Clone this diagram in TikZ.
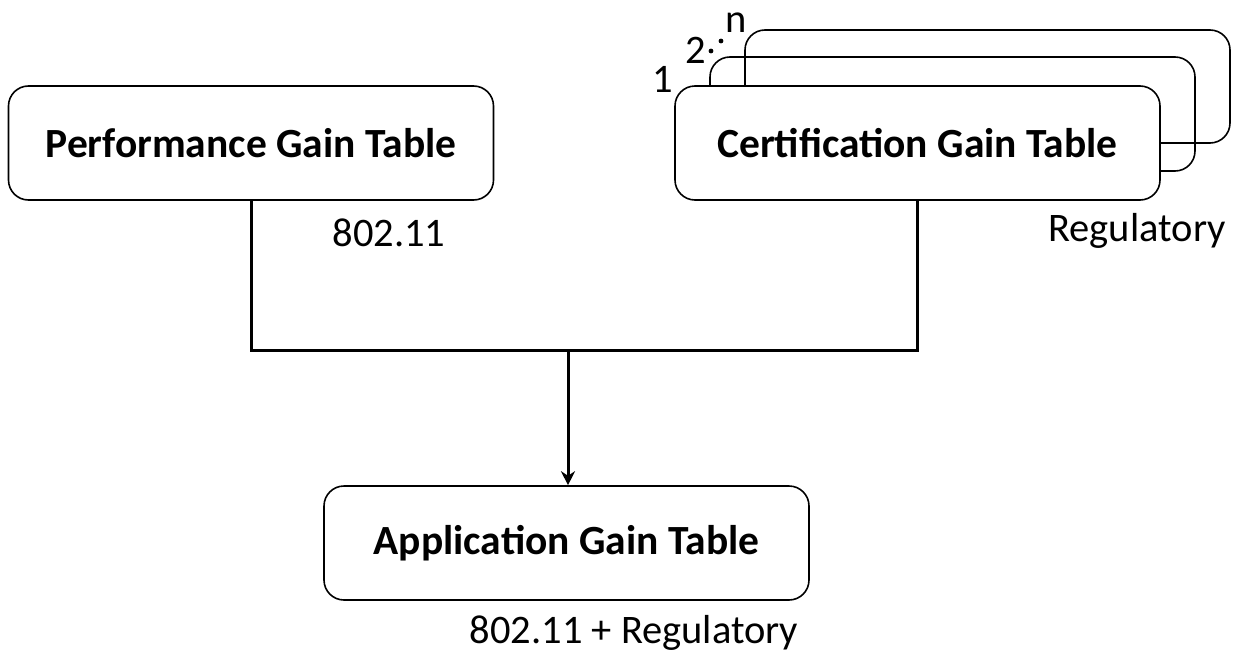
\documentclass[tikz,border=0pt]{standalone}
\usepackage{fontspec}
\setmainfont{Carlito}
\usetikzlibrary{arrows.meta}
\begin{document}
\begin{tikzpicture}[x=1pt,y=-1pt,
  tbl/.style={draw=black, line width=1.6pt, rounded corners=20pt, minimum width=485pt, minimum height=114pt, font=\fontsize{41.5}{48}\selectfont\bfseries, inner sep=0pt},
  lbl/.style={font=\fontsize{40.5}{46}\selectfont, inner sep=0pt, anchor=base},
  conn/.style={line width=3pt},
  stk/.style={draw=black, line width=1.6pt, rounded corners=20pt}]
\useasboundingbox (0,0) rectangle (1237,653);
% stacked boxes behind
\draw[stk] (745,30) rectangle (1230,143);
\draw[stk] (710,57) rectangle (1195,171);
\node[tbl, fill=white] (perf) at (251,143) {Performance Gain Table};
\node[tbl, fill=white] (cert) at (917.5,143) {Certification Gain Table};
\node[tbl, fill=white] (app) at (566.5,543) {Application Gain Table};
\node[lbl] (n1) at (663,92) {1};
\node[lbl] (n2) at (696,63) {2};
\fill (711,51) circle (2.4pt);
\fill (721,41) circle (2.4pt);
\node[lbl] (nn) at (736,32) {n};
\node[lbl] (l1) at (389,246) {802.11};
\node[lbl] (l2) at (1137,241) {Regulatory};
\node[lbl] (l3) at (634,643) {802.11 + Regulatory};
\coordinate (j) at (568,350);
\draw[conn] (perf.south) -- (perf.south |- j) -- (cert.south |- j) -- (cert.south);
\draw[conn, -{Stealth[length=14pt,width=14pt]}] (j) -- (app.north -| j);
\end{tikzpicture}
\end{document}
